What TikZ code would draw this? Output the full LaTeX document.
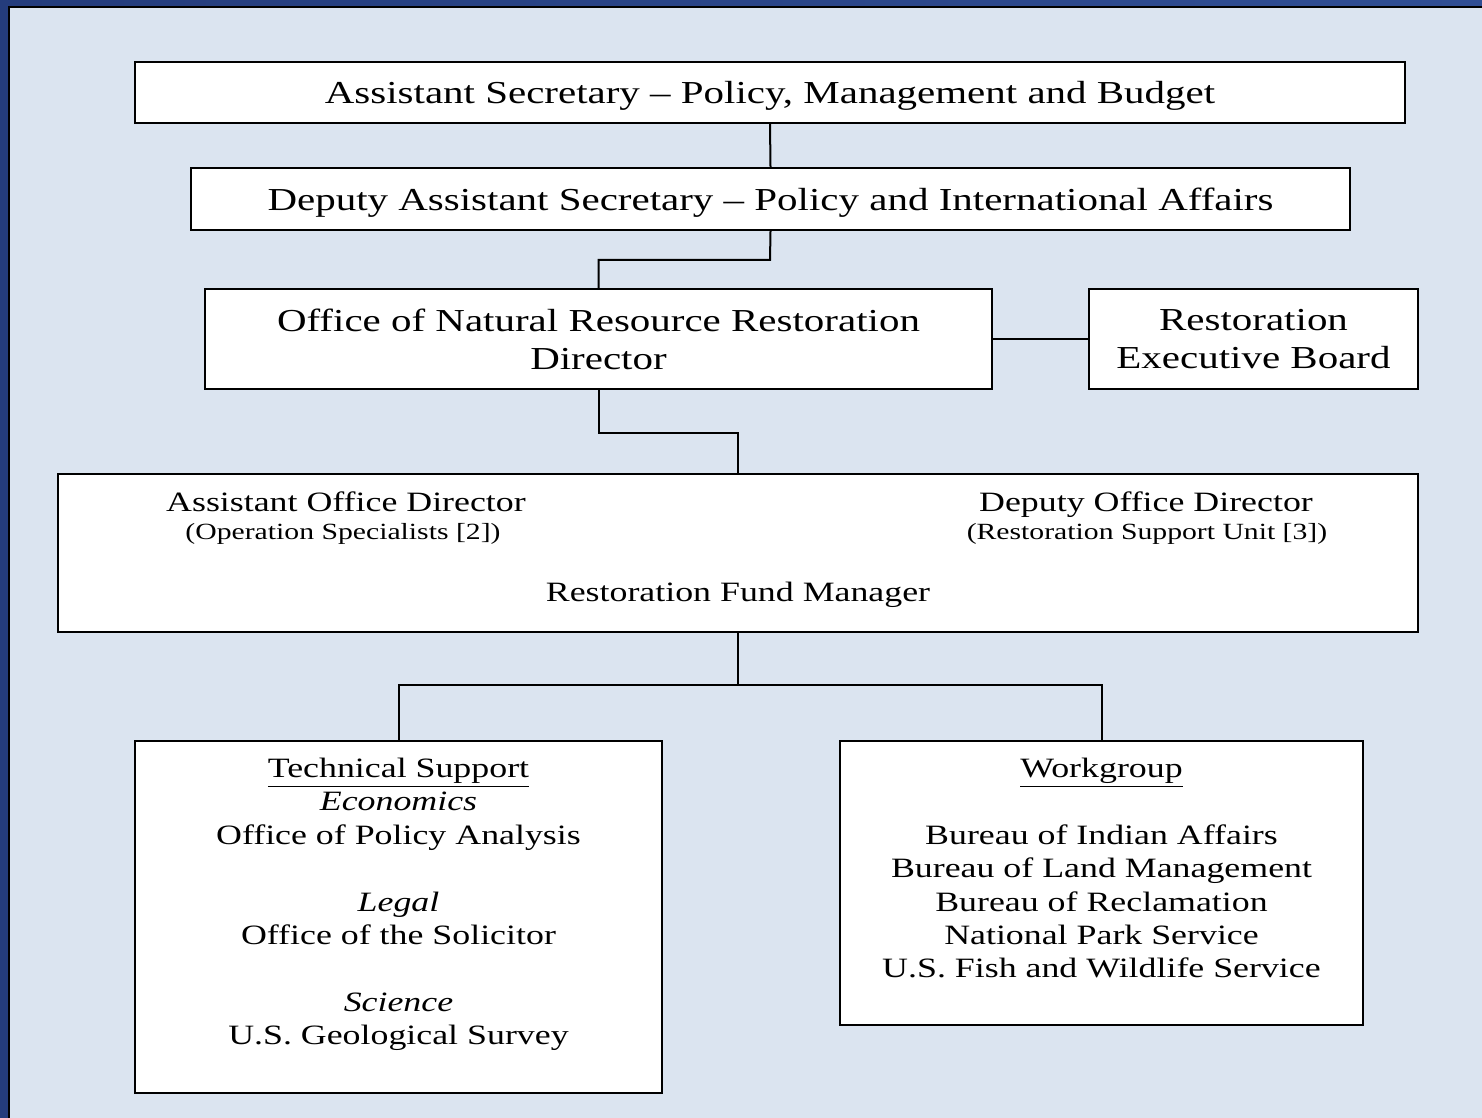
\documentclass[tikz,border=0pt]{standalone}
\usepackage{fontspec}
\setmainfont[FakeStretch=1.28]{Liberation Serif}
\usepackage{xcolor}
\definecolor{frameblue}{RGB}{36,60,124}
\definecolor{frameblue2}{RGB}{48,78,148}
\definecolor{panelblue}{RGB}{219,228,240}
\tikzset{
  box/.style={draw=black, line width=1.2pt, fill=white, inner sep=0pt, align=center},
  big/.style={font=\fontsize{16}{19}\selectfont},
  mid/.style={font=\fontsize{14}{16.7}\selectfont},
  small/.style={font=\fontsize{11.6}{14}\selectfont},
  link/.style={line width=1pt, draw=black}
}

\begin{document}
\begin{tikzpicture}[x=0.5pt, y=-0.5pt]
  \useasboundingbox (0,0) rectangle (1482,1118);
  \shade[left color=frameblue, right color=frameblue2] (0,0) rectangle (1482,1118);
  \filldraw[fill=panelblue, draw=black, line width=1.2pt] (9,7) rectangle (1500,1140);

  \node[box, big, text depth=0pt, minimum width=635pt, minimum height=30.5pt] (as) at (770,92.5)
    {Assistant Secretary -- Policy, Management and Budget};
  \node[box, big, text depth=0pt, minimum width=579.5pt, minimum height=31pt] (das) at (770.5,199)
    {Deputy Assistant Secretary -- Policy and International Affairs};
  \node[box, big, minimum width=393.5pt, minimum height=50pt] (onrr) at (598.5,339)
    {Office of Natural Resource Restoration\\Director};
  \node[box, big, minimum width=164.5pt, minimum height=50pt] (reb) at (1253.5,339)
    {Restoration\\Executive Board};
  \node[box, minimum width=680pt, minimum height=79pt] (office) at (738,553) {};
  \node[mid, anchor=base] (aod) at (346,511) {Assistant Office Director};
  \node[small, anchor=base] (aodsub) at (343,539) {(Operation Specialists [2])};
  \node[mid, anchor=base] (dod) at (1146,511) {Deputy Office Director};
  \node[small, anchor=base] (dodsub) at (1147,539) {(Restoration Support Unit [3])};
  \node[mid, anchor=base] (rfm) at (738,601) {Restoration Fund Manager};
  \node[box, minimum width=263.5pt, minimum height=176pt] (ts) at (398.5,917) {};
  \node[mid, align=center, anchor=north] (tslist) at (398.5,751)
    {\underline{Technical Support}\\\textit{Economics}\\Office of Policy Analysis\\[16.7pt]
     \textit{Legal}\\Office of the Solicitor\\[16.7pt]\textit{Science}\\U.S. Geological Survey};
  \node[box, minimum width=261.5pt, minimum height=142pt] (wg) at (1101.5,883) {};
  \node[mid, align=center, anchor=north] (wglist) at (1101.5,751)
    {\underline{Workgroup}\\[16.7pt]Bureau of Indian Affairs\\Bureau of Land Management\\
     Bureau of Reclamation\\National Park Service\\U.S. Fish and Wildlife Service};

  \coordinate (k1) at (770,260);
  \coordinate (k2) at (738,433);
  \coordinate (k3) at (738,685);
  \draw[link] (as.south) -- (das.north);
  \draw[link] (das.south) -- (k1) -| (onrr.north);
  \draw[link] (onrr.east) -- (reb.west);
  \draw[link] (onrr.south) |- (k2) -- (office.north);
  \draw[link] (office.south) -- (k3) -| (ts.north);
  \draw[link] (k3) -| (wg.north);
\end{tikzpicture}
\end{document}
